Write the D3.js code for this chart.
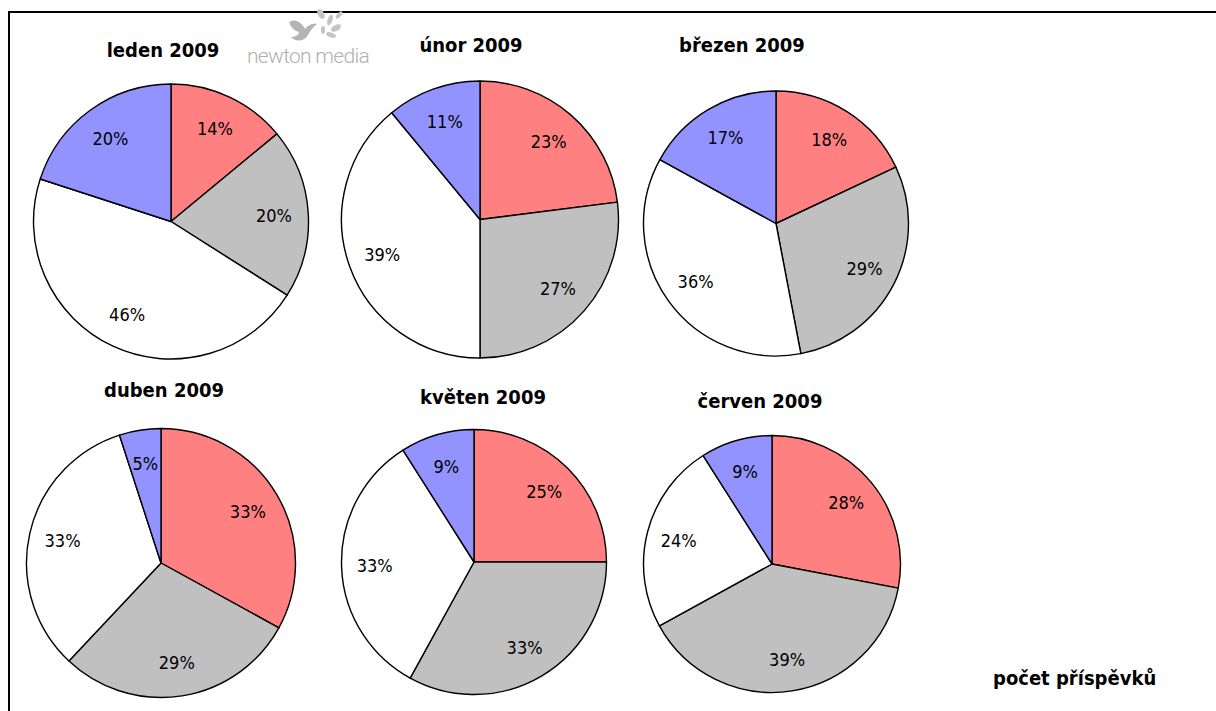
<!DOCTYPE html>
<html>
<head>
<meta charset="utf-8">
<script src="https://cdn.jsdelivr.net/npm/d3@7"></script>
<style>
  body { margin: 0; background: #fff; }
  svg { display: block; }
</style>
</head>
<body>
<script>
// 数据：每个月四个扇区（红、灰、白、蓝），单位 %
var months      = ['leden 2009', 'únor 2009', 'březen 2009', 'duben 2009', 'květen 2009', 'červen 2009'];
var redValues   = [14, 23, 18, 33, 25, 28];
var grayValues  = [20, 27, 29, 29, 33, 39];
var whiteValues = [46, 39, 36, 33, 33, 24];
var blueValues  = [20, 11, 17, 5, 9, 9];
var seriesKeys  = ['red', 'gray', 'white', 'blue'];
var footerText  = 'počet příspěvků';

var width  = 1216;
var height = 711;

// 每个饼图的位置、半径和标题位置
var layout = [
  {cx: 171, cy: 221.5, r: 137.5, tx: 163, ty: 57},
  {cx: 480, cy: 219.5, r: 138.5, tx: 471, ty: 52},
  {cx: 776, cy: 223.5, r: 132.5, tx: 742, ty: 52},
  {cx: 161, cy: 563,   r: 134.5, tx: 164, ty: 397},
  {cx: 474, cy: 562,   r: 132.5, tx: 483, ty: 404},
  {cx: 772, cy: 564,   r: 128.5, tx: 760, ty: 408}
];

var color = d3.scaleOrdinal()
  .domain(seriesKeys)
  .range(['#ff8080', '#c0c0c0', '#ffffff', '#9393ff']);

var titleFont = '"DejaVu Sans Condensed", "DejaVu Sans", sans-serif';

var svg = d3.select('body')
  .append('svg')
  .attr('width', width)
  .attr('height', height);

// 外框（左、上）
svg.append('path')
  .attr('d', 'M9,' + height + 'V12H' + width)
  .attr('fill', 'none')
  .attr('stroke', '#000')
  .attr('stroke-width', 2);

// logo
var logo = svg.append('g').attr('transform', 'translate(247,0)');
logo.append('path')
  .attr('d', 'M42,22 C48,18 55,22 58,29 C61,25 65,23 70,24 C66,27 63,31 61,35 C57,42 48,42 44,37 C48,37 52,35 52,32 C48,31 44,28 42,22 Z')
  .attr('fill', '#b4b4b4');
[[74, 14, 3, 5.5, -30], [83, 20, 2.5, 5.5, 20], [89, 28, 3, 5.5, 60], [84, 35, 2.5, 5, 110], [76, 30, 2, 4, 0], [92, 15, 2, 4.5, 40]]
  .forEach(function (e) {
    logo.append('ellipse')
      .attr('cx', e[0]).attr('cy', e[1])
      .attr('rx', e[2]).attr('ry', e[3])
      .attr('transform', 'rotate(' + e[4] + ',' + e[0] + ',' + e[1] + ')')
      .attr('fill', '#c4c4c4');
  });
logo.append('text')
  .attr('x', 0)
  .attr('y', 63)
  .text('newton media')
  .style('font-family', 'Roboto, sans-serif')
  .style('font-weight', 300)
  .style('font-size', '21px')
  .style('letter-spacing', '-0.7px')
  .style('fill', '#b0b0b0');

var pie = d3.pie().sort(null).value(function (d) { return d.value; });

months.forEach(function (month, i) {
  var L = layout[i];
  var values = [redValues[i], grayValues[i], whiteValues[i], blueValues[i]];
  var slices = pie(values.map(function (v, k) { return {key: seriesKeys[k], value: v}; }));

  var arc = d3.arc().innerRadius(0).outerRadius(L.r);
  var labelArc = d3.arc().innerRadius(L.r * 0.75).outerRadius(L.r * 0.75);

  var g = svg.append('g')
    .attr('class', 'pie')
    .attr('transform', 'translate(' + L.cx + ',' + L.cy + ')');

  g.selectAll('path')
    .data(slices)
    .enter()
    .append('path')
    .attr('d', arc)
    .attr('fill', function (d) { return color(d.data.key); })
    .attr('stroke', '#000')
    .attr('stroke-width', 1.4)
    .attr('stroke-linejoin', 'round');

  g.selectAll('text')
    .data(slices)
    .enter()
    .append('text')
    .attr('transform', function (d) { return 'translate(' + labelArc.centroid(d) + ')'; })
    .attr('text-anchor', 'middle')
    .attr('dy', '0.36em')
    .text(function (d) { return d.data.value + '%'; })
    .style('font-family', titleFont)
    .style('font-size', '18px')
    .style('fill', '#000');

  // 标题
  svg.append('text')
    .attr('x', L.tx)
    .attr('y', L.ty)
    .attr('text-anchor', 'middle')
    .text(month)
    .style('font-family', titleFont)
    .style('font-weight', 'bold')
    .style('font-size', '20px')
    .style('fill', '#000');
});

svg.append('text')
  .attr('x', 993)
  .attr('y', 685)
  .text(footerText)
  .style('font-family', titleFont)
  .style('font-weight', 'bold')
  .style('font-size', '20px')
  .style('fill', '#000');
</script>
</body>
</html>
